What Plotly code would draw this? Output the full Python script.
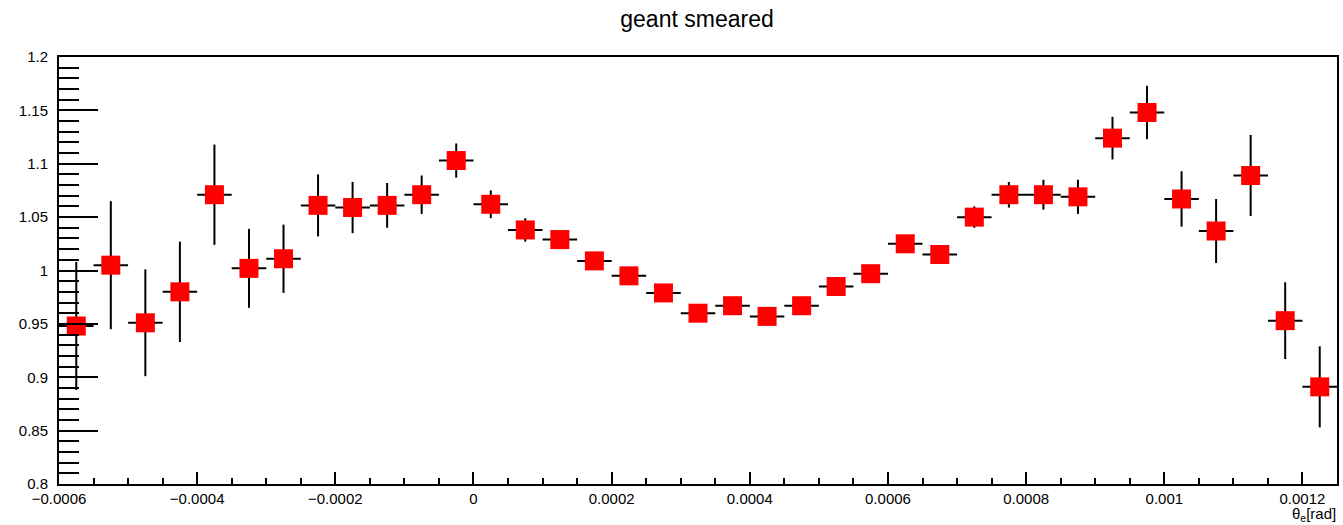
import plotly.graph_objects as go

# ---- data ----
bin_width = 0.00005
x_centers = [-0.000575 + i * bin_width for i in range(37)]
ratio = [0.948, 1.005, 0.951, 0.980, 1.071, 1.002, 1.011, 1.061, 1.059, 1.061,
         1.071, 1.103, 1.062, 1.038, 1.029, 1.009, 0.995, 0.979, 0.960, 0.967,
         0.957, 0.967, 0.985, 0.997, 1.025, 1.015, 1.050, 1.071, 1.071, 1.069,
         1.124, 1.148, 1.067, 1.037, 1.089, 0.953, 0.891]
ratio_err = [0.060, 0.060, 0.050, 0.047, 0.047, 0.037, 0.032, 0.029, 0.024, 0.021,
             0.018, 0.016, 0.013, 0.011, 0.009, 0.007, 0.007, 0.007, 0.007, 0.007,
             0.007, 0.007, 0.007, 0.007, 0.008, 0.008, 0.010, 0.012, 0.014, 0.016,
             0.020, 0.025, 0.026, 0.030, 0.038, 0.036, 0.038]
x_tickvals = [-0.0006, -0.0004, -0.0002, 0.0, 0.0002, 0.0004, 0.0006, 0.0008, 0.001, 0.0012]
x_ticktext = ["\u22120.0006", "\u22120.0004", "\u22120.0002", "0", "0.0002", "0.0004",
              "0.0006", "0.0008", "0.001", "0.0012"]
y_tickvals = [0.8, 0.85, 0.9, 0.95, 1.0, 1.05, 1.1, 1.15, 1.2]
y_ticktext = ["0.8", "0.85", "0.9", "0.95", "1", "1.05", "1.1", "1.15", "1.2"]
title_text = "geant smeared"
x_title = "\u03b8<sub>e</sub>[rad]"

FONT = "Liberation Sans, Arial, Helvetica, sans-serif"

fig = go.Figure()
fig.add_trace(go.Scatter(
    x=x_centers, y=ratio, mode="markers",
    marker=dict(symbol="square", size=19, color="#ff0000", line=dict(width=0)),
    error_x=dict(type="constant", value=bin_width / 2, width=0, thickness=2, color="black"),
    error_y=dict(type="data", array=ratio_err, visible=True, width=0, thickness=2, color="black"),
    showlegend=False,
))

fig.update_layout(
    width=1343, height=525,
    margin=dict(l=59, r=4, t=57, b=41),
    paper_bgcolor="white", plot_bgcolor="white",
    font=dict(family=FONT, color="black", size=15),
    title=dict(text=title_text, x=697 / 1343, xanchor="center", y=0.963, yanchor="middle",
               font=dict(size=23, family=FONT, color="black")),
    xaxis=dict(
        range=[-0.0006, 0.00125], showgrid=False, zeroline=False,
        showline=True, linecolor="black", linewidth=2, mirror=True,
        ticks="inside", ticklen=12, tickwidth=2, tickcolor="black",
        tickvals=x_tickvals, ticktext=x_ticktext, tickfont=dict(size=15),
        ticklabelstandoff=0,
        minor=dict(ticks="inside", ticklen=6, tickwidth=2, tickcolor="black",
                   dtick=bin_width, tick0=0, showgrid=False),
    ),
    yaxis=dict(
        range=[0.8, 1.2], showgrid=False, zeroline=False,
        showline=True, linecolor="black", linewidth=2, mirror=True,
        ticks="inside", ticklen=39, tickwidth=2, tickcolor="black",
        tickvals=y_tickvals, ticktext=y_ticktext, tickfont=dict(size=15),
        ticklabelstandoff=6,
        minor=dict(ticks="inside", ticklen=20, tickwidth=2, tickcolor="black",
                   dtick=0.01, tick0=0.8, showgrid=False),
    ),
)

fig.add_annotation(
    text=x_title, xref="paper", yref="paper", x=1.0, y=0, xanchor="right",
    yanchor="top", yshift=-20, borderpad=0, showarrow=False,
    font=dict(size=15, family=FONT, color="black"),
)

fig.write_html("out.html")
